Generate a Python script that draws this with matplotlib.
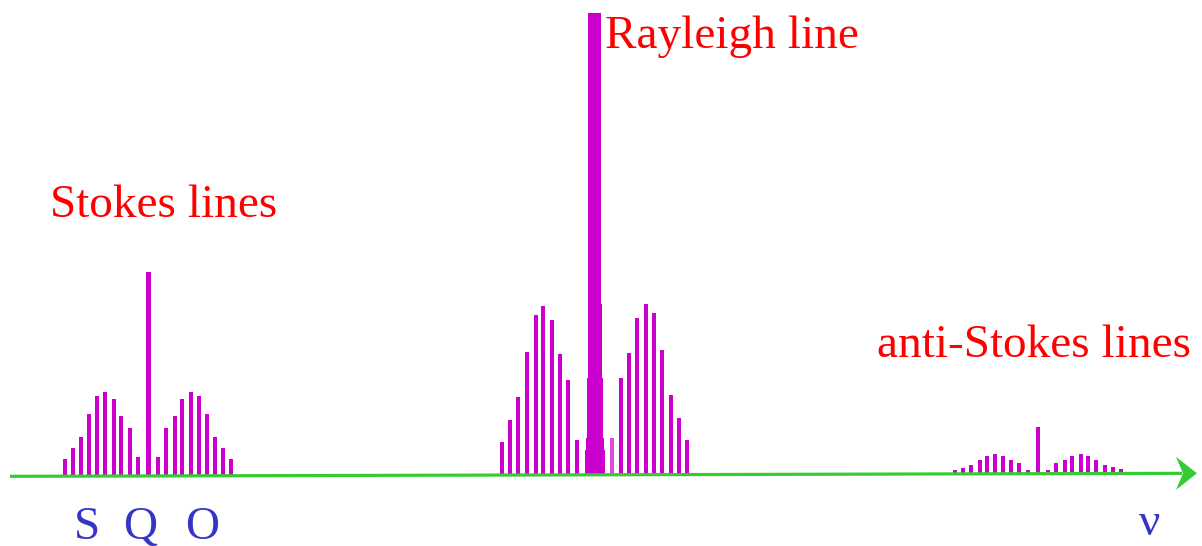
import matplotlib
matplotlib.use("Agg")
import matplotlib.pyplot as plt
from matplotlib.patches import Polygon

# frequency positions (arbitrary units) and intensities of the lines
stokes_x = [64.7, 72.7, 80.7, 88.7, 96.7, 104.7, 113.7, 120.7, 129.7, 137.7,
            157.7, 165.7, 174.7, 181.7, 190.7, 198.7, 206.7, 214.7, 222.7, 230.7]
stokes_h = [17, 28, 39, 62, 80, 84, 77, 60, 48, 19,
            19, 48, 60, 77, 84, 80, 62, 39, 28, 17]
stokes_q_x = 148.3
stokes_q_h = 204

rayleigh_x = [502, 510, 518, 527, 536, 543, 552, 560, 568, 577,
              611.7, 621, 629, 637, 646, 654, 662, 671, 679, 687]
rayleigh_h = [33, 55, 78, 123, 160, 169, 155, 121, 95, 35,
              37, 97, 122, 157, 171, 162, 125, 80, 57, 35]
rayleigh_faint = [611.7]
rayleigh_x0 = 594.5
rayleigh_h0 = 462
rayleigh_shoulders = [171, 97, 37, 25]

anti_x = [955, 962.7, 971, 980, 987, 995, 1003, 1011, 1019, 1028,
          1048, 1056, 1065, 1072, 1081, 1088, 1096, 1105, 1113, 1121]
anti_h = [4, 6, 9, 14, 18, 20, 18, 14, 11, 4,
          4, 11, 14, 18, 20, 18, 14, 9, 6, 4]
anti_q_x = 1038
anti_q_h = 47

branch_labels = ["S", "Q", "O"]

MAGENTA = "#cc00cc"
GREEN = "#33cc33"
RED = "#ff0000"
BLUE = "#3535c8"

W, H = 1202, 546


def base(x):
    # the baseline is very slightly tilted in the original
    return 69.7 + 0.00254 * (x - 10)


plt.rcParams["font.family"] = ["Liberation Serif", "DejaVu Serif"]
fig = plt.figure(figsize=(W / 100, H / 100), dpi=100)
ax = fig.add_axes([0, 0, 1, 1])
ax.set_xlim(0, W)
ax.set_ylim(0, H)
ax.axis("off")


def lines(xs, hs, width=4, **kw):
    bottoms = [base(x) - 0.5 for x in xs]
    ax.bar(xs, [h + 0.5 for h in hs], width=width, bottom=bottoms,
           color=MAGENTA, linewidth=0, **kw)


# Stokes
lines(stokes_x, stokes_h)
lines([stokes_q_x], [stokes_q_h], width=5.5)

# Rayleigh
normal = [(x, h) for x, h in zip(rayleigh_x, rayleigh_h) if x not in rayleigh_faint]
faint = [(x, h) for x, h in zip(rayleigh_x, rayleigh_h) if x in rayleigh_faint]
lines([p[0] for p in normal], [p[1] for p in normal])
lines([p[0] for p in faint], [p[1] for p in faint], alpha=0.7)
lines([rayleigh_x0], [rayleigh_h0], width=13.3)
for i, h in enumerate(rayleigh_shoulders):
    lines([rayleigh_x0 + 0.3 * i], [h], width=14 + 2 * i)

# anti-Stokes
lines(anti_x, anti_h)
lines([anti_q_x], [anti_q_h])

# frequency axis with arrow
ax.plot([10, 1182], [base(10), base(1182)], color=GREEN, lw=2.3,
        solid_capstyle="butt", zorder=5)
tip = 1197
ax.add_patch(Polygon([[tip, base(tip)], [1176, base(1176) + 16.5],
                      [1183, base(1183)], [1176, base(1176) - 16.5]],
                     closed=True, color=GREEN, lw=0, zorder=6))

fs = 34
ax.text(50, 329, "Stokes lines", color=RED, fontsize=fs, va="baseline")
ax.text(605, 498, "Rayleigh line", color=RED, fontsize=fs, va="baseline")
ax.text(877, 189, "anti-Stokes lines", color=RED, fontsize=fs, va="baseline")

for lab, x in zip(branch_labels, [86.7, 140.5, 202.5]):
    ax.text(x, 7, lab, color=BLUE, fontsize=fs, ha="center", va="baseline")
ax.text(1150, 11, "ν", color=BLUE, fontsize=fs, ha="center", va="baseline")

fig.savefig("out.png", dpi=100)
